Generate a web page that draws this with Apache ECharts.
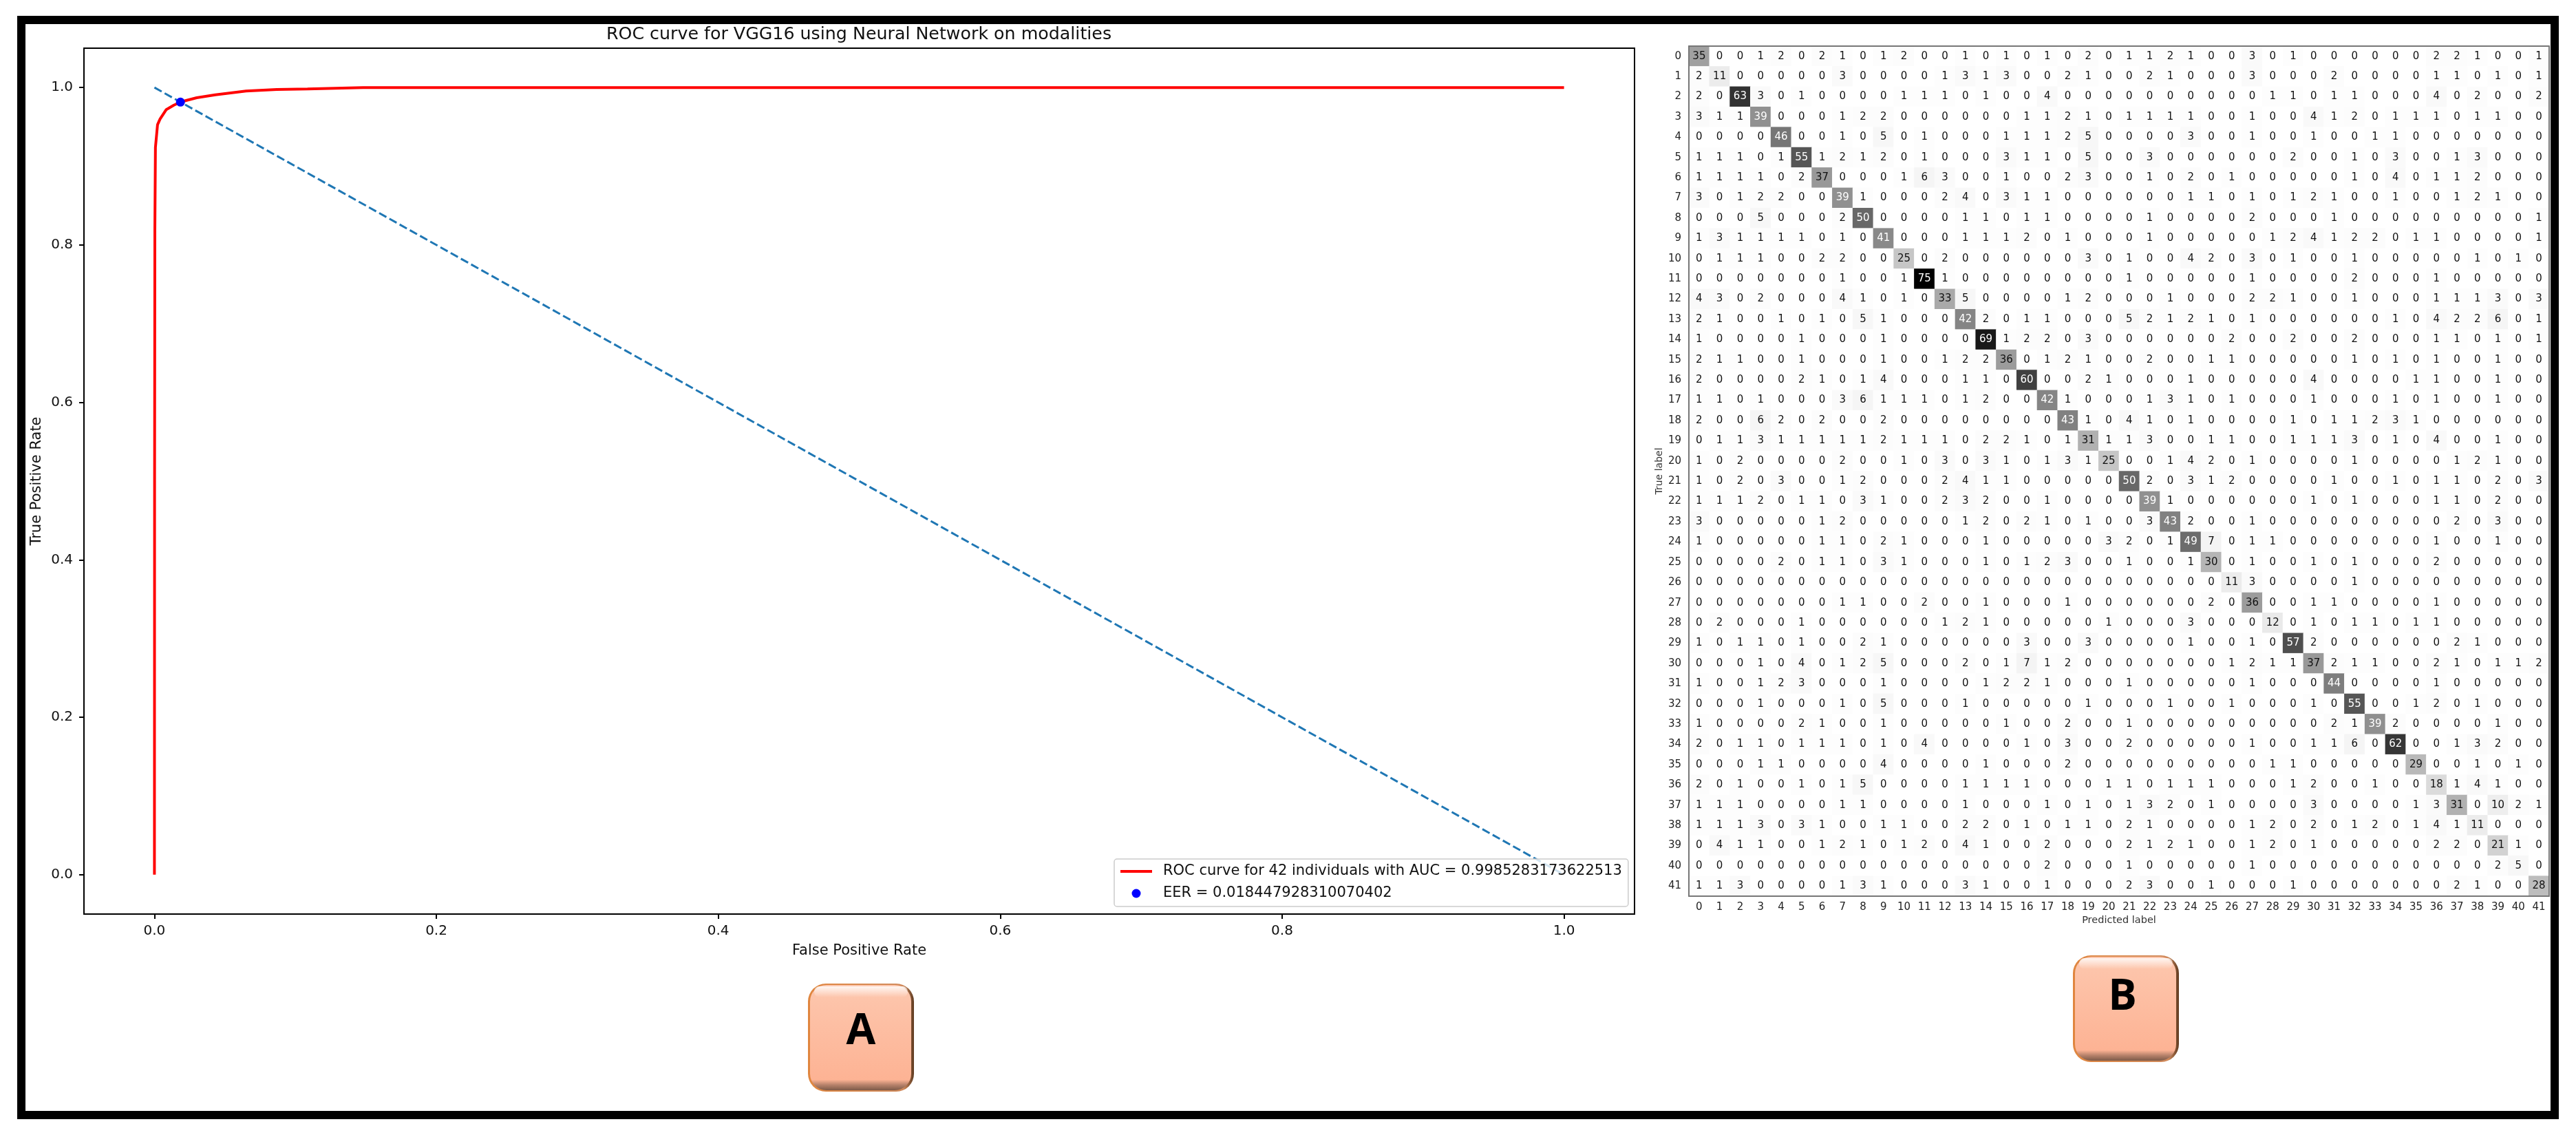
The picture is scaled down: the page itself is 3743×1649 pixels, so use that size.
<!DOCTYPE html>
<html>
<head>
<meta charset="utf-8">
<title>ROC curve and confusion matrix</title>
<script src="https://cdn.jsdelivr.net/npm/echarts@6/dist/echarts.min.js"></script>
<style>
  html, body { margin: 0; padding: 0; background: #fff; }
  #chart { width: 3743px; height: 1649px; }
</style>
</head>
<body>
<div id="chart"></div>
<script>
// panel A
let rocFpr = [0, 0.0001, 0.0003, 0.0007, 0.0016, 0.0022, 0.004, 0.0084, 0.0138, 0.0192, 0.03, 0.0432, 0.065, 0.0868, 0.1086, 0.148, 1]
let rocTpr = [0, 0.5, 0.819, 0.924, 0.9413, 0.9528, 0.96, 0.972, 0.9776, 0.982, 0.987, 0.9907, 0.9956, 0.9975, 0.9983, 1, 1]
let chanceFpr = [0, 1]
let chanceTpr = [1, 0]
let eerPoint = [0.018447928310070402, 0.9815]
let rocTicks = [0, 0.2, 0.4, 0.6, 0.8, 1]
let rocName = 'ROC curve for 42 individuals with AUC = 0.9985283173622513'
let eerName = 'EER = 0.018447928310070402'

// panel B, rows are the true label and columns the predicted label
let classLabels = ['0', '1', '2', '3', '4', '5', '6', '7', '8', '9', '10', '11', '12', '13', '14', '15', '16', '17', '18', '19', '20',
  '21', '22', '23', '24', '25', '26', '27', '28', '29', '30', '31', '32', '33', '34', '35', '36', '37', '38', '39', '40', '41']
let confusion = [
  [35, 0, 0, 1, 2, 0, 2, 1, 0, 1, 2, 0, 0, 1, 0, 1, 0, 1, 0, 2, 0, 1, 1, 2, 1, 0, 0, 3, 0, 1, 0, 0, 0, 0, 0, 0, 2, 2, 1, 0, 0, 1],
  [2, 11, 0, 0, 0, 0, 0, 3, 0, 0, 0, 0, 1, 3, 1, 3, 0, 0, 2, 1, 0, 0, 2, 1, 0, 0, 0, 3, 0, 0, 0, 2, 0, 0, 0, 0, 1, 1, 0, 1, 0, 1],
  [2, 0, 63, 3, 0, 1, 0, 0, 0, 0, 1, 1, 1, 0, 1, 0, 0, 4, 0, 0, 0, 0, 0, 0, 0, 0, 0, 0, 1, 1, 0, 1, 1, 0, 0, 0, 4, 0, 2, 0, 0, 2],
  [3, 1, 1, 39, 0, 0, 0, 1, 2, 2, 0, 0, 0, 0, 0, 0, 1, 1, 2, 1, 0, 1, 1, 1, 1, 0, 0, 1, 0, 0, 4, 1, 2, 0, 1, 1, 1, 0, 1, 1, 0, 0],
  [0, 0, 0, 0, 46, 0, 0, 1, 0, 5, 0, 1, 0, 0, 0, 1, 1, 1, 2, 5, 0, 0, 0, 0, 3, 0, 0, 1, 0, 0, 1, 0, 0, 1, 1, 0, 0, 0, 0, 0, 0, 0],
  [1, 1, 1, 0, 1, 55, 1, 2, 1, 2, 0, 1, 0, 0, 0, 3, 1, 1, 0, 5, 0, 0, 3, 0, 0, 0, 0, 0, 0, 2, 0, 0, 1, 0, 3, 0, 0, 1, 3, 0, 0, 0],
  [1, 1, 1, 1, 0, 2, 37, 0, 0, 0, 1, 6, 3, 0, 0, 1, 0, 0, 2, 3, 0, 0, 1, 0, 2, 0, 1, 0, 0, 0, 0, 0, 1, 0, 4, 0, 1, 1, 2, 0, 0, 0],
  [3, 0, 1, 2, 2, 0, 0, 39, 1, 0, 0, 0, 2, 4, 0, 3, 1, 1, 0, 0, 0, 0, 0, 0, 1, 1, 0, 1, 0, 1, 2, 1, 0, 0, 1, 0, 0, 1, 2, 1, 0, 0],
  [0, 0, 0, 5, 0, 0, 0, 2, 50, 0, 0, 0, 0, 1, 1, 0, 1, 1, 0, 0, 0, 0, 1, 0, 0, 0, 0, 2, 0, 0, 0, 1, 0, 0, 0, 0, 0, 0, 0, 0, 0, 1],
  [1, 3, 1, 1, 1, 1, 0, 1, 0, 41, 0, 0, 0, 1, 1, 1, 2, 0, 1, 0, 0, 0, 1, 0, 0, 0, 0, 0, 1, 2, 4, 1, 2, 2, 0, 1, 1, 0, 0, 0, 0, 1],
  [0, 1, 1, 1, 0, 0, 2, 2, 0, 0, 25, 0, 2, 0, 0, 0, 0, 0, 0, 3, 0, 1, 0, 0, 4, 2, 0, 3, 0, 1, 0, 0, 1, 0, 0, 0, 0, 0, 1, 0, 1, 0],
  [0, 0, 0, 0, 0, 0, 0, 1, 0, 0, 1, 75, 1, 0, 0, 0, 0, 0, 0, 0, 0, 1, 0, 0, 0, 0, 0, 1, 0, 0, 0, 0, 2, 0, 0, 0, 1, 0, 0, 0, 0, 0],
  [4, 3, 0, 2, 0, 0, 0, 4, 1, 0, 1, 0, 33, 5, 0, 0, 0, 0, 1, 2, 0, 0, 0, 1, 0, 0, 0, 2, 2, 1, 0, 0, 1, 0, 0, 0, 1, 1, 1, 3, 0, 3],
  [2, 1, 0, 0, 1, 0, 1, 0, 5, 1, 0, 0, 0, 42, 2, 0, 1, 1, 0, 0, 0, 5, 2, 1, 2, 1, 0, 1, 0, 0, 0, 0, 0, 0, 1, 0, 4, 2, 2, 6, 0, 1],
  [1, 0, 0, 0, 0, 1, 0, 0, 0, 1, 0, 0, 0, 0, 69, 1, 2, 2, 0, 3, 0, 0, 0, 0, 0, 0, 2, 0, 0, 2, 0, 0, 2, 0, 0, 0, 1, 1, 0, 1, 0, 1],
  [2, 1, 1, 0, 0, 1, 0, 0, 0, 1, 0, 0, 1, 2, 2, 36, 0, 1, 2, 1, 0, 0, 2, 0, 0, 1, 1, 0, 0, 0, 0, 0, 1, 0, 1, 0, 1, 0, 0, 1, 0, 0],
  [2, 0, 0, 0, 0, 2, 1, 0, 1, 4, 0, 0, 0, 1, 1, 0, 60, 0, 0, 2, 1, 0, 0, 0, 1, 0, 0, 0, 0, 0, 4, 0, 0, 0, 0, 1, 1, 0, 0, 1, 0, 0],
  [1, 1, 0, 1, 0, 0, 0, 3, 6, 1, 1, 1, 0, 1, 2, 0, 0, 42, 1, 0, 0, 0, 1, 3, 1, 0, 1, 0, 0, 0, 1, 0, 0, 0, 1, 0, 1, 0, 0, 1, 0, 0],
  [2, 0, 0, 6, 2, 0, 2, 0, 0, 2, 0, 0, 0, 0, 0, 0, 0, 0, 43, 1, 0, 4, 1, 0, 1, 0, 0, 0, 0, 1, 0, 1, 1, 2, 3, 1, 0, 0, 0, 0, 0, 0],
  [0, 1, 1, 3, 1, 1, 1, 1, 1, 2, 1, 1, 1, 0, 2, 2, 1, 0, 1, 31, 1, 1, 3, 0, 0, 1, 1, 0, 0, 1, 1, 1, 3, 0, 1, 0, 4, 0, 0, 1, 0, 0],
  [1, 0, 2, 0, 0, 0, 0, 2, 0, 0, 1, 0, 3, 0, 3, 1, 0, 1, 3, 1, 25, 0, 0, 1, 4, 2, 0, 1, 0, 0, 0, 0, 1, 0, 0, 0, 0, 1, 2, 1, 0, 0],
  [1, 0, 2, 0, 3, 0, 0, 1, 2, 0, 0, 0, 2, 4, 1, 1, 0, 0, 0, 0, 0, 50, 2, 0, 3, 1, 2, 0, 0, 0, 0, 1, 0, 0, 1, 0, 1, 1, 0, 2, 0, 3],
  [1, 1, 1, 2, 0, 1, 1, 0, 3, 1, 0, 0, 2, 3, 2, 0, 0, 1, 0, 0, 0, 0, 39, 1, 0, 0, 0, 0, 0, 0, 1, 0, 1, 0, 0, 0, 1, 1, 0, 2, 0, 0],
  [3, 0, 0, 0, 0, 0, 1, 2, 0, 0, 0, 0, 0, 1, 2, 0, 2, 1, 0, 1, 0, 0, 3, 43, 2, 0, 0, 1, 0, 0, 0, 0, 0, 0, 0, 0, 0, 2, 0, 3, 0, 0],
  [1, 0, 0, 0, 0, 0, 1, 1, 0, 2, 1, 0, 0, 0, 1, 0, 0, 0, 0, 0, 3, 2, 0, 1, 49, 7, 0, 1, 1, 0, 0, 0, 0, 0, 0, 0, 1, 0, 0, 1, 0, 0],
  [0, 0, 0, 0, 2, 0, 1, 1, 0, 3, 1, 0, 0, 0, 1, 0, 1, 2, 3, 0, 0, 1, 0, 0, 1, 30, 0, 1, 0, 0, 1, 0, 1, 0, 0, 0, 2, 0, 0, 0, 0, 0],
  [0, 0, 0, 0, 0, 0, 0, 0, 0, 0, 0, 0, 0, 0, 0, 0, 0, 0, 0, 0, 0, 0, 0, 0, 0, 0, 11, 3, 0, 0, 0, 0, 1, 0, 0, 0, 0, 0, 0, 0, 0, 0],
  [0, 0, 0, 0, 0, 0, 0, 1, 1, 0, 0, 2, 0, 0, 1, 0, 0, 0, 1, 0, 0, 0, 0, 0, 0, 2, 0, 36, 0, 0, 1, 1, 0, 0, 0, 0, 1, 0, 0, 0, 0, 0],
  [0, 2, 0, 0, 0, 1, 0, 0, 0, 0, 0, 0, 1, 2, 1, 0, 0, 0, 0, 0, 1, 0, 0, 0, 3, 0, 0, 0, 12, 0, 1, 0, 1, 1, 0, 1, 1, 0, 0, 0, 0, 0],
  [1, 0, 1, 1, 0, 1, 0, 0, 2, 1, 0, 0, 0, 0, 0, 0, 3, 0, 0, 3, 0, 0, 0, 0, 1, 0, 0, 1, 0, 57, 2, 0, 0, 0, 0, 0, 0, 2, 1, 0, 0, 0],
  [0, 0, 0, 1, 0, 4, 0, 1, 2, 5, 0, 0, 0, 2, 0, 1, 7, 1, 2, 0, 0, 0, 0, 0, 0, 0, 1, 2, 1, 1, 37, 2, 1, 1, 0, 0, 2, 1, 0, 1, 1, 2],
  [1, 0, 0, 1, 2, 3, 0, 0, 0, 1, 0, 0, 0, 0, 1, 2, 2, 1, 0, 0, 0, 1, 0, 0, 0, 0, 0, 1, 0, 0, 0, 44, 0, 0, 0, 0, 1, 0, 0, 0, 0, 0],
  [0, 0, 0, 1, 0, 0, 0, 1, 0, 5, 0, 0, 0, 1, 0, 0, 0, 0, 0, 1, 0, 0, 0, 1, 0, 0, 1, 0, 0, 0, 1, 0, 55, 0, 0, 1, 2, 0, 1, 0, 0, 0],
  [1, 0, 0, 0, 0, 2, 1, 0, 0, 1, 0, 0, 0, 0, 0, 1, 0, 0, 2, 0, 0, 1, 0, 0, 0, 0, 0, 0, 0, 0, 0, 2, 1, 39, 2, 0, 0, 0, 0, 1, 0, 0],
  [2, 0, 1, 1, 0, 1, 1, 1, 0, 1, 0, 4, 0, 0, 0, 0, 1, 0, 3, 0, 0, 2, 0, 0, 0, 0, 0, 1, 0, 0, 1, 1, 6, 0, 62, 0, 0, 1, 3, 2, 0, 0],
  [0, 0, 0, 1, 1, 0, 0, 0, 0, 4, 0, 0, 0, 0, 1, 0, 0, 0, 2, 0, 0, 0, 0, 0, 0, 0, 0, 0, 1, 1, 0, 0, 0, 0, 0, 29, 0, 0, 1, 0, 1, 0],
  [2, 0, 1, 0, 0, 1, 0, 1, 5, 0, 0, 0, 0, 1, 1, 1, 1, 0, 0, 0, 1, 1, 0, 1, 1, 1, 0, 0, 0, 1, 2, 0, 0, 1, 0, 0, 18, 1, 4, 1, 0, 0],
  [1, 1, 1, 0, 0, 0, 0, 1, 1, 0, 0, 0, 0, 1, 0, 0, 0, 1, 0, 1, 0, 1, 3, 2, 0, 1, 0, 0, 0, 0, 3, 0, 0, 0, 0, 1, 3, 31, 0, 10, 2, 1],
  [1, 1, 1, 3, 0, 3, 1, 0, 0, 1, 1, 0, 0, 2, 2, 0, 1, 0, 1, 1, 0, 2, 1, 0, 0, 0, 0, 1, 2, 0, 2, 0, 1, 2, 0, 1, 4, 1, 11, 0, 0, 0],
  [0, 4, 1, 1, 0, 0, 1, 2, 1, 0, 1, 2, 0, 4, 1, 0, 0, 2, 0, 0, 0, 2, 1, 2, 1, 0, 0, 1, 2, 0, 1, 0, 0, 0, 0, 0, 2, 2, 0, 21, 1, 0],
  [0, 0, 0, 0, 0, 0, 0, 0, 0, 0, 0, 0, 0, 0, 0, 0, 0, 2, 0, 0, 0, 1, 0, 0, 0, 0, 0, 1, 0, 0, 0, 0, 0, 0, 0, 0, 0, 0, 0, 2, 5, 0],
  [1, 1, 3, 0, 0, 0, 0, 1, 3, 1, 0, 0, 0, 3, 1, 0, 0, 1, 0, 0, 0, 2, 3, 0, 0, 1, 0, 0, 0, 1, 0, 0, 0, 0, 0, 0, 0, 2, 1, 0, 0, 28]
]
let greys = ['#ffffff', '#f0f0f0', '#d9d9d9', '#bdbdbd', '#969696', '#737373', '#525252', '#252525', '#000000']

function pairs (xs, ys) {
  return xs.map(function (x, i) { return [x, ys[i]] })
}

let maxCount = Math.max(...confusion.map(function (row) { return Math.max(...row) }))
let heatData = []
confusion.forEach(function (row, r) {
  row.forEach(function (v, c) {
    heatData.push({
      value: [c, r, v],
      label: { color: v > maxCount / 2 ? '#fff' : '#111' }
    })
  })
})

// the A / B buttons under the panels
function badge (x, y, w, h, letter, letterX, letterY) {
  return {
    type: 'group',
    children: [
      {
        type: 'rect',
        shape: { x: x, y: y, width: w, height: h, r: 26 },
        style: {
          fill: new echarts.graphic.LinearGradient(0, 0, 1, 0, [
            { offset: 0, color: '#e0863f' },
            { offset: 0.9, color: '#d08a5c' },
            { offset: 1, color: '#5e3a20' }
          ])
        }
      },
      {
        type: 'rect',
        shape: { x: x + 3, y: y + 2, width: w - 7, height: h - 4, r: 24 },
        style: {
          fill: new echarts.graphic.LinearGradient(0, 0, 0, 1, [
            { offset: 0, color: '#fdc7ae' },
            { offset: 0.9, color: '#fdb394' },
            { offset: 0.95, color: '#b5816a' },
            { offset: 1, color: '#7d5a48' }
          ])
        }
      },
      {
        type: 'rect',
        shape: { x: x + 9, y: y + 4, width: w - 18, height: 16, r: 8 },
        style: {
          fill: new echarts.graphic.LinearGradient(0, 0, 0, 1, [
            { offset: 0, color: 'rgba(255,255,255,0.85)' },
            { offset: 1, color: 'rgba(255,255,255,0)' }
          ])
        }
      },
      {
        type: 'text',
        style: {
          x: letterX,
          y: letterY,
          text: letter,
          fill: '#000',
          font: 'bold 62px "Open Sans"',
          align: 'center',
          verticalAlign: 'middle'
        }
      }
    ]
  }
}

let font = 'DejaVu Sans'

let option = {
  animation: false,
  backgroundColor: '#fff',
  textStyle: { fontFamily: font },
  title: {
    text: 'ROC curve for VGG16 using Neural Network on modalities',
    left: 1243,
    top: 33,
    textAlign: 'center',
    textStyle: { fontFamily: font, fontSize: 25.3, fontWeight: 'normal', color: '#111' }
  },
  legend: {
    orient: 'vertical',
    left: 1619,
    top: 1248,
    padding: [7.5, 9, 8.5, 7],
    itemGap: 11,
    itemWidth: 46,
    itemHeight: 13,
    backgroundColor: 'rgba(255,255,255,0.8)',
    borderColor: '#ccc',
    borderWidth: 1.5,
    borderRadius: 4,
    data: [
      { name: rocName, itemStyle: { opacity: 0 }, lineStyle: { color: '#ff0000', width: 4, opacity: 1 } },
      { name: eerName, icon: 'circle' }
    ],
    textStyle: { fontFamily: font, fontSize: 21, color: '#111', padding: [0, 0, 0, 11] }
  },
  grid: [
    { left: 122, top: 70, width: 2253, height: 1258, show: true, borderColor: '#000', borderWidth: 2, backgroundColor: 'transparent' },
    { left: 2454, top: 67, width: 1250, height: 1235 }
  ],
  xAxis: [
    {
      gridIndex: 0,
      type: 'value',
      min: -0.05,
      max: 1.05,
      name: 'False Positive Rate',
      nameLocation: 'middle',
      nameGap: 43,
      nameMoveOverlap: false,
      nameTextStyle: { fontFamily: font, fontSize: 21, color: '#111' },
      splitLine: { show: false },
      axisLine: { onZero: false, lineStyle: { color: '#000', width: 2 } },
      axisTick: { customValues: rocTicks, length: 7, lineStyle: { color: '#000', width: 2 } },
      axisLabel: {
        customValues: rocTicks,
        margin: 15,
        fontSize: 20,
        fontFamily: font,
        color: '#111',
        formatter: function (v) { return v.toFixed(1) }
      }
    },
    {
      gridIndex: 1,
      type: 'category',
      data: classLabels,
      z: 5,
      name: 'Predicted label',
      nameLocation: 'middle',
      nameGap: 28,
      nameMoveOverlap: false,
      nameTextStyle: { fontFamily: font, fontSize: 14.5, color: '#333' },
      splitLine: { show: false },
      axisLine: { lineStyle: { color: '#777', width: 2 } },
      axisTick: { alignWithLabel: true, length: 5, lineStyle: { color: '#333' } },
      axisLabel: { interval: 0, margin: 9, fontSize: 15, fontFamily: font, color: '#222' }
    },
    {
      gridIndex: 1,
      type: 'category',
      position: 'top',
      data: classLabels,
      z: 5,
      axisLine: { onZero: false, lineStyle: { color: '#777', width: 2 } },
      axisTick: { show: false },
      axisLabel: { show: false }
    }
  ],
  yAxis: [
    {
      gridIndex: 0,
      type: 'value',
      min: -0.05,
      max: 1.05,
      name: 'True Positive Rate',
      nameLocation: 'middle',
      nameGap: 58,
      nameMoveOverlap: false,
      nameTextStyle: { fontFamily: font, fontSize: 21, color: '#111' },
      splitLine: { show: false },
      axisLine: { onZero: false, lineStyle: { color: '#000', width: 2 } },
      axisTick: { customValues: rocTicks, length: 7, lineStyle: { color: '#000', width: 2 } },
      axisLabel: {
        customValues: rocTicks,
        margin: 16,
        fontSize: 20,
        fontFamily: font,
        color: '#111',
        formatter: function (v) { return v.toFixed(1) }
      }
    },
    {
      gridIndex: 1,
      type: 'category',
      inverse: true,
      data: classLabels,
      z: 5,
      name: 'True label',
      nameLocation: 'middle',
      nameGap: 36,
      nameMoveOverlap: false,
      nameTextStyle: { fontFamily: font, fontSize: 14, color: '#333' },
      splitLine: { show: false },
      axisLine: { lineStyle: { color: '#777', width: 2 } },
      axisTick: { alignWithLabel: true, length: 5, lineStyle: { color: '#333' } },
      axisLabel: { interval: 0, margin: 11, fontSize: 15, fontFamily: font, color: '#222' }
    },
    {
      gridIndex: 1,
      type: 'category',
      position: 'right',
      inverse: true,
      data: classLabels,
      z: 5,
      axisLine: { onZero: false, lineStyle: { color: '#777', width: 2 } },
      axisTick: { show: false },
      axisLabel: { show: false }
    }
  ],
  visualMap: {
    show: false,
    seriesIndex: 3,
    dimension: 2,
    min: 0,
    max: maxCount,
    inRange: { color: greys }
  },
  series: [
    {
      name: 'chance',
      type: 'line',
      xAxisIndex: 0,
      yAxisIndex: 0,
      data: pairs(chanceFpr, chanceTpr),
      symbol: 'none',
      lineStyle: { color: '#1f77b4', width: 3, type: [12, 5] }
    },
    {
      name: rocName,
      type: 'line',
      xAxisIndex: 0,
      yAxisIndex: 0,
      data: pairs(rocFpr, rocTpr),
      symbol: 'none',
      itemStyle: { color: '#ff0000' },
      lineStyle: { color: '#ff0000', width: 4 }
    },
    {
      name: eerName,
      type: 'scatter',
      xAxisIndex: 0,
      yAxisIndex: 0,
      data: [eerPoint],
      symbol: 'circle',
      symbolSize: 13,
      z: 3,
      itemStyle: { color: '#0000ff', opacity: 1 }
    },
    {
      name: 'confusion',
      type: 'heatmap',
      xAxisIndex: 1,
      yAxisIndex: 1,
      data: heatData,
      label: {
        show: true,
        fontSize: 15,
        fontFamily: font,
        formatter: function (p) { return p.value[2] }
      }
    }
  ],
  graphic: [
    {
      type: 'rect',
      z: 10,
      shape: { x: 31, y: 29, width: 3681, height: 1591 },
      style: { fill: 'none', stroke: '#000', lineWidth: 12 }
    },
    badge(1174, 1429, 154, 157, 'A', 1251, 1499),
    badge(3012, 1388, 154, 155, 'B', 3084, 1449)
  ]
}

let myChart = echarts.init(document.getElementById('chart'), null, { renderer: 'canvas' })
myChart.setOption(option)
</script>
</body>
</html>
